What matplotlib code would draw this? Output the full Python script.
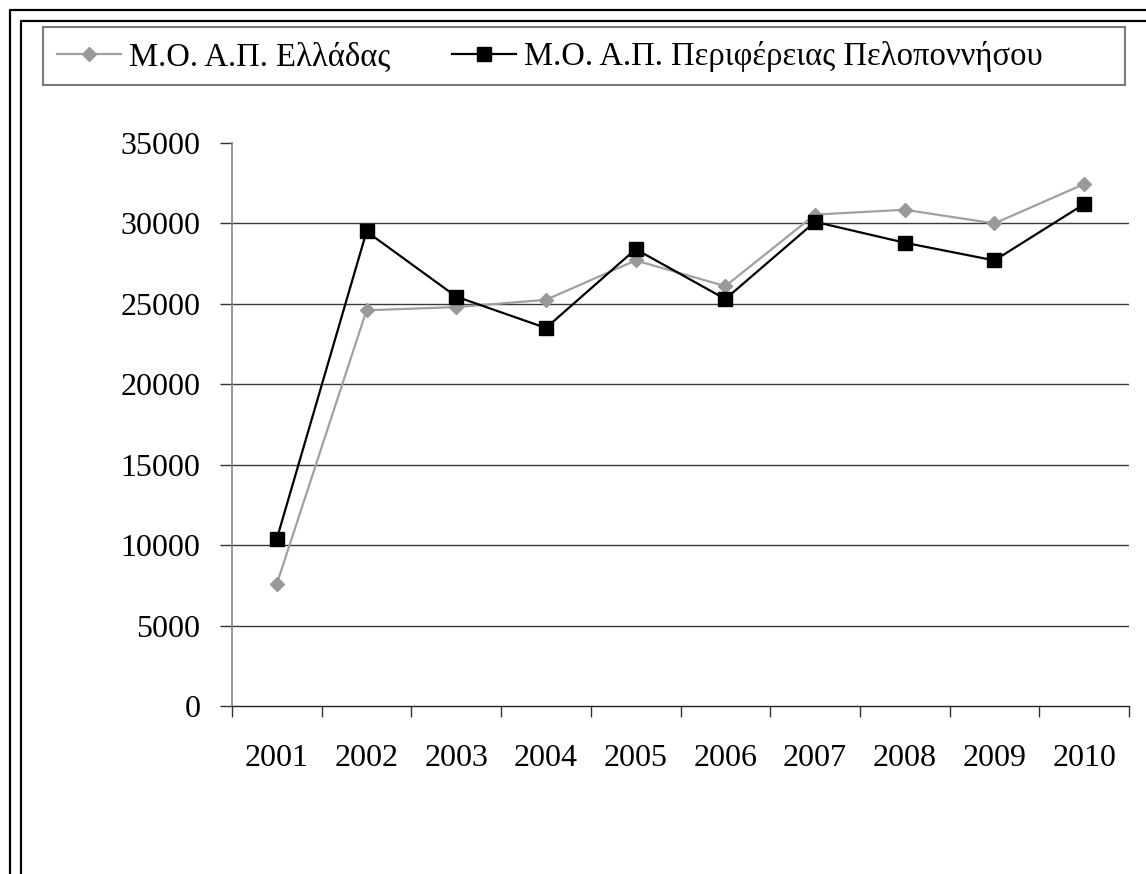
import numpy as np
import matplotlib.pyplot as plt
from matplotlib.patches import Rectangle
from matplotlib.lines import Line2D

years = ["2001", "2002", "2003", "2004", "2005", "2006", "2007", "2008", "2009", "2010"]
greece = [7600, 24600, 24800, 25250, 27700, 26100, 30550, 30850, 30000, 32450]
peloponnese = [10400, 29500, 25450, 23500, 28400, 25300, 30100, 28800, 27700, 31200]
yticks = [0, 5000, 10000, 15000, 20000, 25000, 30000, 35000]
labels = ["Μ.Ο. Α.Π. Ελλάδας", "Μ.Ο. Α.Π. Περιφέρειας Πελοποννήσου"]

plt.rcParams["font.family"] = ["Liberation Serif", "DejaVu Serif"]

fig = plt.figure(figsize=(11.46, 8.74), dpi=100)
ax = fig.add_axes([232 / 1146, 1 - 706 / 874, (1129 - 232) / 1146, (706 - 143) / 874])

x = np.arange(len(years))
l1, = ax.plot(x, greece, color="#a0a0a0", lw=1.6, marker="D", markersize=7,
              markerfacecolor="#999999", markeredgecolor="#999999", zorder=3)
l2, = ax.plot(x, peloponnese, color="black", lw=1.6, marker="s", markersize=10,
              markerfacecolor="black", markeredgecolor="black", zorder=4)

for v in yticks[1:-1]:
    ax.axhline(v, color="#3a3a3a", lw=1, zorder=1)

ax.set_xlim(-0.5, len(years) - 0.5)
ax.set_ylim(0, 35000)
ax.set_yticks(yticks)
ax.set_yticklabels([str(v) for v in yticks])
ax.tick_params(axis="y", length=8.6, width=1, color="#333333", pad=14, labelsize=23)

ax.set_xticks(np.arange(-0.5, len(years), 1))
ax.set_xticklabels([""] * (len(years) + 1))
ax.set_xticks(x, minor=True)
ax.set_xticklabels(years, minor=True)
ax.tick_params(axis="x", which="major", length=8, width=1, color="#333333")
ax.tick_params(axis="x", which="minor", length=0, pad=27, labelsize=23)

for s in ["top", "right"]:
    ax.spines[s].set_visible(False)
ax.spines["left"].set_color("#868686")
ax.spines["left"].set_linewidth(1.2)
ax.spines["bottom"].set_color("#222222")
ax.spines["bottom"].set_linewidth(1)
ax.spines["left"].set_bounds(0, 35000)

# legend box across the top
fig.patches.append(Rectangle((43 / 1146, 1 - 85 / 874), (1125 - 43) / 1146, 58 / 874,
                             transform=fig.transFigure, fill=False,
                             edgecolor="#7a7a7a", lw=1.5))
fig.legend([l1, l2], labels, loc="center left", bbox_to_anchor=(57 / 1146, 1 - 57 / 874),
           bbox_transform=fig.transFigure, frameon=False, ncol=2, fontsize=23.5,
           handlelength=1.95, handletextpad=0.25, columnspacing=1.9,
           borderpad=0, borderaxespad=0)

# double border of the page
W, H = 1146, 874
for off in [10, 21]:
    fig.lines.append(Line2D([off / W, off / W, 1], [0, 1 - off / H, 1 - off / H],
                            transform=fig.transFigure, color="black", lw=1.6))

fig.savefig("out.png", dpi=100)
